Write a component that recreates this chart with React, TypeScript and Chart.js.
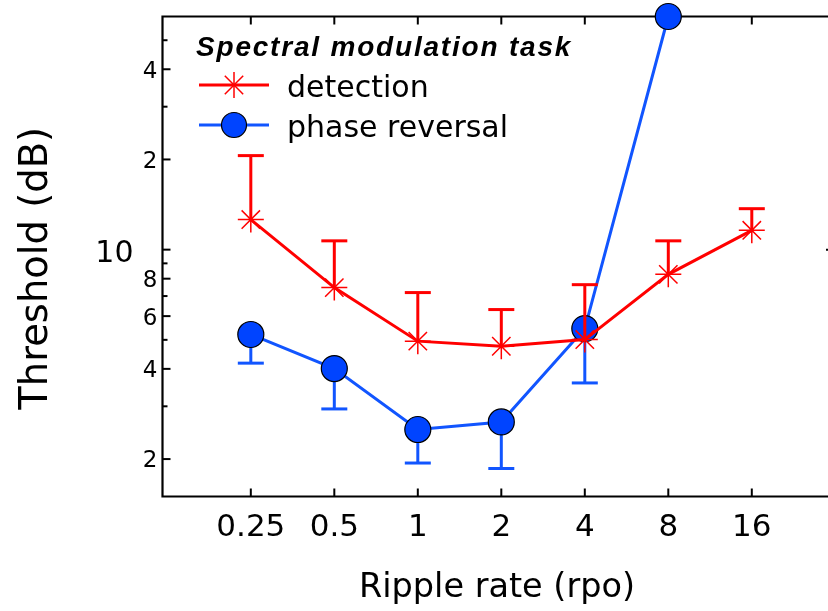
import React, { useEffect, useRef } from 'react';
import { Chart, registerables } from 'chart.js';

Chart.register(...registerables);

// ---- data ----
const rates = [0.25, 0.5, 1, 2, 4, 8, 16];
const rateLabels = ['0.25', '0.5', '1', '2', '4', '8', '16'];
const detection = [12.6, 7.47, 4.95, 4.76, 5.01, 8.27, 11.6];
const detectionUpper = [20.6, 10.7, 7.19, 6.31, 7.64, 10.7, 13.7];
const phaseReversal = [5.21, 4.01, 2.51, 2.66, 5.45, 60];
const phaseReversalLower = [4.18, 2.94, 1.94, 1.86, 3.59, 60];
const yMajorTicks = [2, 4, 6, 8, 10, 20, 40];
const yMajorLabels = ['2', '4', '6', '8', '10', '2', '4'];
const yMinorTicks = [3, 5, 7, 9, 30, 50];
const yRange = [1.5, 60];
const xRange = [0.1201, 30.12];

const RED = '#ff0000';
const BLUE_FILL = '#0044ff';
const BLUE_LINE = '#1155ff';
const FONT = '"DejaVu Sans", sans-serif';

function seg(ctx: CanvasRenderingContext2D, x0: number, y0: number, x1: number, y1: number) {
  ctx.beginPath();
  ctx.moveTo(x0, y0);
  ctx.lineTo(x1, y1);
  ctx.stroke();
}

const decor = {
  id: 'decor',
  beforeDatasetDraw(chart: any, args: any) {
    const ctx = chart.ctx as CanvasRenderingContext2D;
    const xs = chart.scales.x;
    const ys = chart.scales.y;
    ctx.save();
    ctx.lineWidth = 3;
    ctx.lineCap = 'butt';
    if (args.index === 0) {
      ctx.strokeStyle = RED;
      rates.forEach((r, k) => {
        const x = xs.getPixelForValue(r);
        const y0 = ys.getPixelForValue(detection[k]);
        const y1 = ys.getPixelForValue(detectionUpper[k]);
        seg(ctx, x, y0, x, y1);
        seg(ctx, x - 13, y1, x + 13, y1);
      });
    } else {
      ctx.strokeStyle = BLUE_LINE;
      phaseReversal.forEach((v, k) => {
        const lo = phaseReversalLower[k];
        if (lo >= v) return;
        const x = xs.getPixelForValue(rates[k]);
        const y0 = ys.getPixelForValue(v);
        const y1 = ys.getPixelForValue(lo);
        seg(ctx, x, y0, x, y1);
        seg(ctx, x - 13, y1, x + 13, y1);
      });
    }
    ctx.restore();
  },
  beforeDatasetsDraw(chart: any) {
    const ctx = chart.ctx as CanvasRenderingContext2D;
    const { left, right, top, bottom } = chart.chartArea;
    const xs = chart.scales.x;
    const ys = chart.scales.y;
    ctx.save();
    ctx.strokeStyle = '#000';
    ctx.lineWidth = 2.2;
    ctx.beginPath();
    ctx.moveTo(right + 10, top);
    ctx.lineTo(left, top);
    ctx.lineTo(left, bottom);
    ctx.lineTo(right + 10, bottom);
    ctx.stroke();
    ctx.lineWidth = 2;
    rates.forEach((r) => {
      const x = xs.getPixelForValue(r);
      seg(ctx, x, bottom, x, bottom - 8);
      seg(ctx, x, top, x, top + 8);
    });
    yMajorTicks.forEach((v) => {
      const y = ys.getPixelForValue(v);
      seg(ctx, left, y, left + 8, y);
    });
    yMinorTicks.forEach((v) => {
      const y = ys.getPixelForValue(v);
      seg(ctx, left, y, left + 5, y);
    });
    // right axis (off canvas) tick at 10
    const rightAxis = right + 6;
    const y10 = ys.getPixelForValue(10);
    seg(ctx, rightAxis - 8, y10, rightAxis, y10);
    ctx.restore();
  },
  afterDraw(chart: any) {
    const ctx = chart.ctx as CanvasRenderingContext2D;
    const { left } = chart.chartArea;
    const xs = chart.scales.x;
    const ys = chart.scales.y;
    ctx.save();
    ctx.fillStyle = '#000';
    // x tick labels
    ctx.font = `31px ${FONT}`;
    ctx.textAlign = 'center';
    ctx.textBaseline = 'alphabetic';
    rates.forEach((r, k) => {
      ctx.fillText(rateLabels[k], xs.getPixelForValue(r), 536);
    });
    // y tick labels
    ctx.textAlign = 'right';
    yMajorTicks.forEach((v, k) => {
      const y = ys.getPixelForValue(v);
      if (yMajorLabels[k] === '10') {
        ctx.font = `30px ${FONT}`;
        ctx.fillText(yMajorLabels[k], left - 29, y + 12);
      } else {
        ctx.font = `23px ${FONT}`;
        ctx.fillText(yMajorLabels[k], left - 5, y + 8.4);
      }
    });
    // axis titles
    ctx.font = `33.5px ${FONT}`;
    ctx.textAlign = 'center';
    ctx.fillText('Ripple rate (rpo)', 497, 597);
    ctx.save();
    ctx.translate(46.5, 268.3);
    ctx.rotate(-Math.PI / 2);
    ctx.font = `38.5px ${FONT}`;
    ctx.textAlign = 'center';
    ctx.fillText('Threshold (dB)', 0, 0);
    ctx.restore();

    // legend
    ctx.textAlign = 'left';
    ctx.font = 'italic bold 28px "Liberation Sans", Arial, sans-serif';
    (ctx as any).letterSpacing = '1.8px';
    ctx.fillText('Spectral modulation task', 196, 56);
    (ctx as any).letterSpacing = '0px';
    // detection entry
    ctx.strokeStyle = RED;
    ctx.lineWidth = 3;
    seg(ctx, 199, 85, 269, 85);
    ctx.lineWidth = 1.5;
    const cx = 234;
    const r = 13;
    seg(ctx, cx - r, 85, cx + r, 85);
    seg(ctx, cx, 85 - r, cx, 85 + r);
    const d = r * Math.SQRT1_2;
    seg(ctx, cx - d, 85 - d, cx + d, 85 + d);
    seg(ctx, cx - d, 85 + d, cx + d, 85 - d);
    // phase reversal entry
    ctx.strokeStyle = BLUE_LINE;
    ctx.lineWidth = 3;
    seg(ctx, 199, 125, 269, 125);
    ctx.beginPath();
    ctx.arc(cx, 125, 12.5, 0, Math.PI * 2);
    ctx.fillStyle = BLUE_FILL;
    ctx.fill();
    ctx.lineWidth = 1.2;
    ctx.strokeStyle = '#000';
    ctx.stroke();
    ctx.fillStyle = '#000';
    ctx.font = `30px ${FONT}`;
    ctx.fillText('detection', 287, 97.3);
    ctx.fillText('phase reversal', 287, 137.3);
    ctx.restore();
  },
};

export default function App() {
  const ref = useRef<HTMLCanvasElement | null>(null);
  useEffect(() => {
    if (!ref.current) return;
    const chart = new Chart(ref.current, {
      type: 'line',
      data: {
        datasets: [
          {
            label: 'detection',
            data: rates.map((r, k) => ({ x: r, y: detection[k] })),
            borderColor: RED,
            borderWidth: 3,
            pointStyle: 'star',
            pointRadius: 13,
            pointBorderWidth: 1.5,
            pointBorderColor: RED,
            pointBackgroundColor: RED,
            tension: 0,
            clip: false as any,
          },
          {
            label: 'phase reversal',
            data: phaseReversal.map((v, k) => ({ x: rates[k], y: v })),
            borderColor: BLUE_LINE,
            borderWidth: 3,
            pointStyle: 'circle',
            pointRadius: 13,
            pointBorderWidth: 1.2,
            pointBorderColor: '#000',
            pointBackgroundColor: BLUE_FILL,
            tension: 0,
            clip: false as any,
          },
        ],
      },
      options: {
        responsive: false,
        animation: false,
        devicePixelRatio: 1,
        layout: { autoPadding: false, padding: { left: 162.5, top: 16.5, right: 0, bottom: 114.5 } },
        plugins: { legend: { display: false }, tooltip: { enabled: false } },
        events: [],
        scales: {
          x: { type: 'logarithmic', min: xRange[0], max: xRange[1], display: false },
          y: { type: 'logarithmic', min: yRange[0], max: yRange[1], display: false },
        },
      },
      plugins: [decor],
    });
    return () => chart.destroy();
  }, []);
  return (
    <div style={{ position: 'fixed', left: 0, top: 0, width: 828, height: 611, background: '#fff' }}>
      <canvas ref={ref} width={828} height={611} style={{ display: 'block' }} />
    </div>
  );
}
